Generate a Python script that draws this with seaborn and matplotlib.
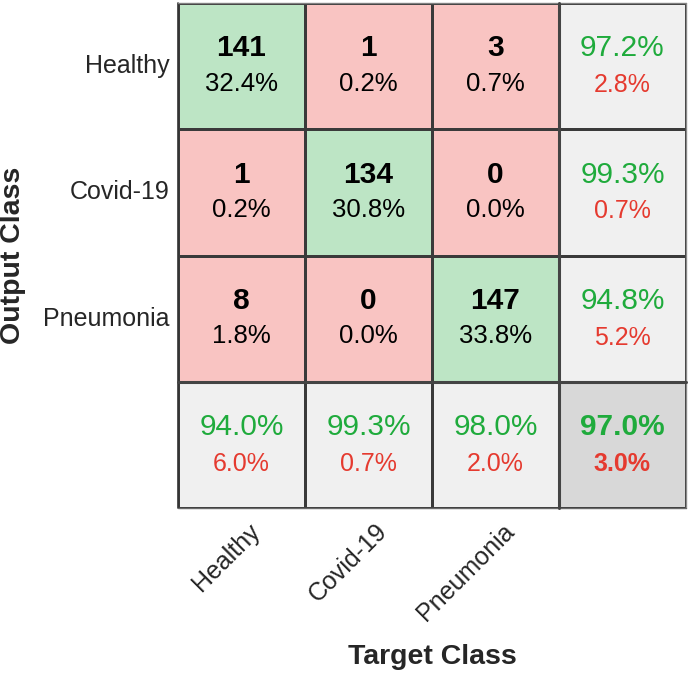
import numpy as np
import matplotlib
matplotlib.use("Agg")
import matplotlib.pyplot as plt
import matplotlib.transforms as mtransforms
import seaborn as sns
from matplotlib.colors import ListedColormap

# confusion matrix counts (rows = output class, cols = target class)
classes = ["Healthy", "Covid-19", "Pneumonia"]
counts = np.array([
    [141, 1, 3],
    [1, 134, 0],
    [8, 0, 147],
])

GREEN_BG = "#bde5c5"
RED_BG = "#f9c4c2"
GRAY_BG = "#f0f0f0"
DARK_BG = "#d8d8d8"
GREEN_TXT = "#1fab3c"
RED_TXT = "#e53a2f"


def main():
    sns.set_style("white")
    plt.rcParams["font.family"] = ["Liberation Sans", "DejaVu Sans"]

    n = len(classes)
    total = counts.sum()

    # colour codes: 0 off-diag, 1 diag, 2 summary, 3 overall
    codes = np.zeros((n + 1, n + 1))
    codes[:n, :n] = np.eye(n)
    codes[n, :] = 2
    codes[:, n] = 2
    codes[n, n] = 3
    cmap = ListedColormap([RED_BG, GREEN_BG, GRAY_BG, DARK_BG])

    fig = plt.figure(figsize=(6.89, 6.75), dpi=100)
    ax = fig.add_axes([0.2583, 0.2474, 0.7373, 0.7481])
    sns.heatmap(codes, cmap=cmap, vmin=-0.5, vmax=3.5, cbar=False,
                linewidths=0.75, linecolor="#3a3a3a", ax=ax, square=False)

    for i in range(n):
        for j in range(n):
            ax.text(j + 0.5, i + 0.36, f"{counts[i, j]}", ha="center", va="center",
                    fontsize=21.5, fontweight="bold", color="black")
            ax.text(j + 0.5, i + 0.64, f"{100 * counts[i, j] / total:.1f}%",
                    ha="center", va="center", fontsize=18.5, color="black")

    # row summary (precision)
    for i in range(n):
        p = 100 * counts[i, i] / counts[i, :].sum()
        ax.text(n + 0.5, i + 0.36, f"{p:.1f}%", ha="center", va="center",
                fontsize=21.5, color=GREEN_TXT)
        ax.text(n + 0.5, i + 0.65, f"{100 - p:.1f}%", ha="center", va="center",
                fontsize=18, color=RED_TXT)
    # column summary (recall)
    for j in range(n):
        r = 100 * counts[j, j] / counts[:, j].sum()
        ax.text(j + 0.5, n + 0.36, f"{r:.1f}%", ha="center", va="center",
                fontsize=21.5, color=GREEN_TXT)
        ax.text(j + 0.5, n + 0.65, f"{100 - r:.1f}%", ha="center", va="center",
                fontsize=18, color=RED_TXT)
    acc = 100 * np.trace(counts) / total
    ax.text(n + 0.5, n + 0.36, f"{acc:.1f}%", ha="center", va="center",
            fontsize=21.5, fontweight="bold", color=GREEN_TXT)
    ax.text(n + 0.5, n + 0.65, f"{100 - acc:.1f}%", ha="center", va="center",
            fontsize=18, fontweight="bold", color=RED_TXT)

    # outer border: dark left, lighter elsewhere
    ax.plot([0, 0], [0, n + 1], color="#333333", lw=1.2, clip_on=False)
    ax.plot([0, n + 1], [0, 0], color="#808080", lw=1.0, clip_on=False)
    ax.plot([n + 1, n + 1], [0, n + 1], color="#8a8a8a", lw=1.0, clip_on=False)
    ax.plot([0, n + 1], [n + 1, n + 1], color="#6a6a6a", lw=1.0, clip_on=False)
    # heavier separators for the summary row / column
    ax.plot([0, n + 1], [n, n], color="#444444", lw=2.2, clip_on=False)
    ax.plot([n, n], [0, n + 1], color="#444444", lw=2.2, clip_on=False)

    # x tick labels, drawn as rotated text so they can be nudged like MATLAB's
    ax.set_xticks(np.arange(n) + 0.5)
    ax.set_xticklabels([])
    shift = mtransforms.ScaledTranslation(15 / 100, -20 / 100, fig.dpi_scale_trans)
    for j, name in enumerate(classes):
        ax.text(j + 0.5, n + 1, name, rotation=45, ha="right", va="center",
                rotation_mode="anchor", fontsize=18, color="#262626",
                transform=ax.transData + shift, clip_on=False)
    ax.set_yticks(np.arange(n) + 0.5)
    ax.set_yticklabels(classes, rotation=0, fontsize=18)
    ax.tick_params(axis="y", length=0, pad=6)
    ax.tick_params(axis="x", length=0, pad=6)
    ax.set_xlabel("Target Class", fontsize=20.5, fontweight="bold")
    ax.set_ylabel("Output Class", fontsize=20.5, fontweight="bold")
    ax.xaxis.set_label_coords(0.5, -0.27)
    ax.yaxis.set_label_coords(-0.30, 0.5)

    fig.savefig("out.png", dpi=100)
    plt.close(fig)


if __name__ == "__main__":
    main()
